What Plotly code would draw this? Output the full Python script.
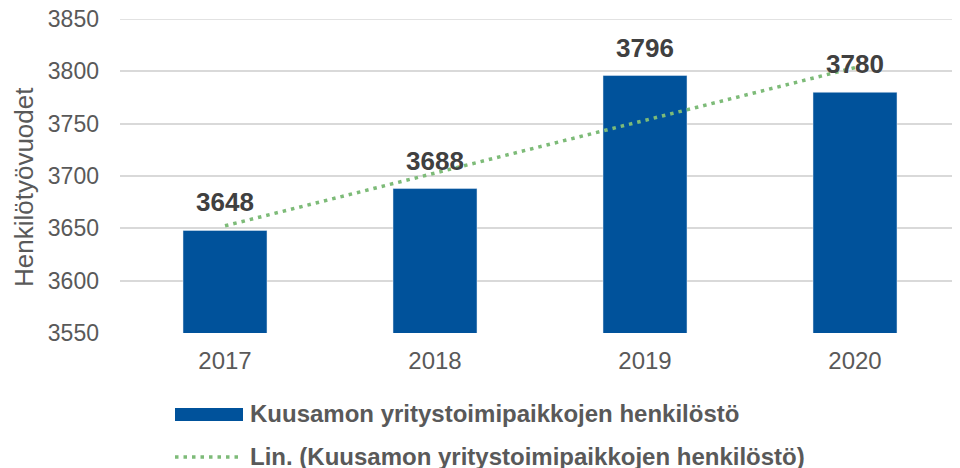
import numpy as np
import plotly.graph_objects as go

years = ["2017", "2018", "2019", "2020"]
values = [3648, 3688, 3796, 3780]
series_name = "Kuusamon yritystoimipaikkojen henkilöstö"
trend_name = "Lin. (Kuusamon yritystoimipaikkojen henkilöstö)"
y_title = "Henkilötyövuodet"
y_ticks = [3550, 3600, 3650, 3700, 3750, 3800, 3850]

idx = np.arange(len(values))
slope, intercept = np.polyfit(idx, values, 1)
trend = list(slope * idx + intercept)

BLUE = "#00529B"
GREEN = "#7DBB78"
GREY = "#595959"
GRID = "#D9D9D9"
FONT = "Liberation Sans, Arial, sans-serif"

# plot area in page pixels; page has an 8px body margin
OFF = 8
L, T, PW, PH = 120, 19, 840, 314
W, H = 960 - OFF, 468 - OFF


def px(x):
    return (x - L) / PW


def py(y):
    return (T + PH - y) / PH


fig = go.Figure()
fig.add_trace(go.Bar(x=years, y=values, marker_color=BLUE, showlegend=False))
fig.add_trace(go.Scatter(
    x=years, y=trend, mode="lines", showlegend=False,
    line=dict(color=GREEN, width=3.5, dash="3.5px,5px"),
))

for i, v in enumerate(values):
    fig.add_annotation(x=i, y=v, xref="x", yref="y", text="<b>%d</b>" % v, showarrow=False,
                       xanchor="center", yanchor="bottom", yshift=11,
                       font=dict(family=FONT, size=26, color="#404040"))

# top gridline (at the plot edge)
fig.add_shape(type="line", xref="paper", yref="y", x0=0, x1=1,
              y0=y_ticks[-1], y1=y_ticks[-1], layer="below",
              line=dict(color=GRID, width=1.5))

# y-axis title
fig.add_annotation(text=y_title, xref="paper", yref="paper", x=px(24), y=py(187),
                   xanchor="center", yanchor="middle", textangle=-90, showarrow=False,
                   font=dict(family=FONT, size=26, color=GREY))

# custom legend
fig.add_shape(type="rect", xref="paper", yref="paper",
              x0=px(175), x1=px(243), y0=py(408), y1=py(421),
              fillcolor=BLUE, line_width=0)
fig.add_shape(type="line", xref="paper", yref="paper",
              x0=px(175), x1=px(243), y0=py(457), y1=py(457),
              line=dict(color=GREEN, width=3.5, dash="3.5px,5px"))
fig.add_annotation(text="<b>" + series_name + "</b>", xref="paper", yref="paper",
                   x=px(248), y=py(413), xanchor="left", yanchor="middle",
                   showarrow=False, font=dict(family=FONT, size=24, color=GREY))
fig.add_annotation(text="<b>" + trend_name + "</b>", xref="paper", yref="paper",
                   x=px(248), y=py(456), xanchor="left", yanchor="middle",
                   showarrow=False, font=dict(family=FONT, size=24, color=GREY))

fig.update_layout(
    width=W, height=H,
    margin=dict(l=L - OFF, r=W - (L - OFF) - PW, t=T - OFF, b=H - (T - OFF) - PH),
    plot_bgcolor="white", paper_bgcolor="white",
    bargap=0.6,
    font=dict(family=FONT, size=24, color=GREY),
    xaxis=dict(type="category", showgrid=False, showline=False, ticks="", automargin=False,
               tickfont=dict(size=24, color=GREY), ticklabelstandoff=11),
    yaxis=dict(range=[3550, 3850], tickvals=y_ticks, showgrid=True, gridcolor=GRID,
               gridwidth=1.5, zeroline=False, showline=False, ticks="", automargin=False,
               ticklabeloverflow="allow",
               tickfont=dict(size=23, color=GREY), ticklabelstandoff=20),
)

fig.write_html("out.html")
